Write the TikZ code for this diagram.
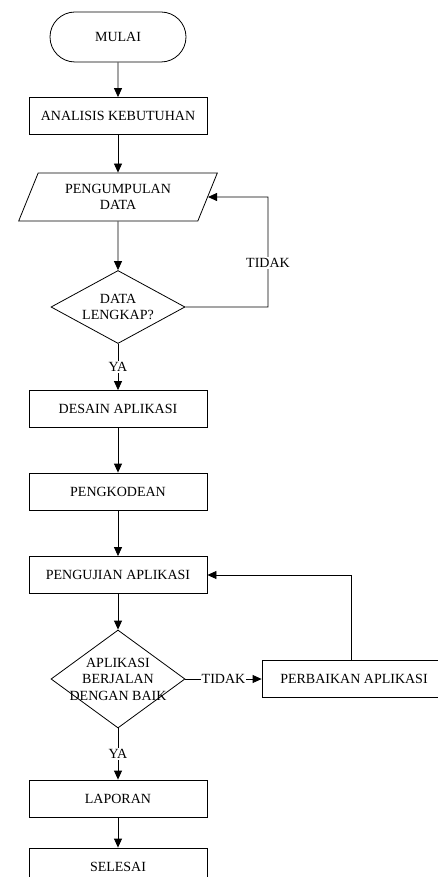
\documentclass[tikz,border=0pt]{standalone}
\usepackage{fontspec}
\setmainfont{Liberation Serif}
\usetikzlibrary{arrows.meta,shapes.geometric,shapes.misc}

\begin{document}
\begin{tikzpicture}[x=1pt,y=-1pt,
  every node/.style={font=\fontsize{14}{16.5}\selectfont},
  box/.style={draw,rectangle,line width=0.8pt,minimum width=178pt,minimum height=37pt,inner sep=0pt},
  term/.style={draw,rounded rectangle,line width=0.8pt,minimum width=136pt,minimum height=50pt,inner sep=0pt},
  io/.style={draw,trapezium,trapezium left angle=63.4,trapezium right angle=116.6,
    trapezium stretches=true,line width=0.8pt,minimum width=199pt,minimum height=48pt,
    inner sep=0pt,align=center},
  decision/.style={draw,diamond,line width=0.8pt,inner sep=0pt},
  arr/.style={-{Triangle[width=8pt,length=9pt]},line width=0.8pt},
  tag/.style={fill=white,inner sep=1pt}
]
\useasboundingbox (0,0) rectangle (438,877);

% main column
\node[term] (start) at (118,37) {MULAI};
\node[box] (anal) at (118,116) {ANALISIS KEBUTUHAN};
\node[io] (data) at (118,197) {PENGUMPULAN\\DATA};
\node[decision,minimum width=134pt,minimum height=73pt,
  label={[align=center]center:DATA\\LENGKAP?}] (d1) at (118,307) {};
\node[box] (desain) at (118,409) {DESAIN APLIKASI};
\node[box] (kode) at (118,491.5) {PENGKODEAN};
\node[box] (uji) at (118,575) {PENGUJIAN APLIKASI};
\node[decision,minimum width=134pt,minimum height=98pt,
  label={[align=center]center:APLIKASI\\BERJALAN\\DENGAN BAIK}] (d2) at (118,679) {};
\node[box] (lap) at (118,798.5) {LAPORAN};
\node[box] (sel) at (118,866.5) {SELESAI};

% repair step on the right, running past the page edge
\node[box,minimum width=184pt] (perb) at (354,679) {PERBAIKAN APLIKASI};

% connectors
\draw[arr] (start) -- (anal);
\draw[arr] (anal) -- (data);
\draw[arr] (data) -- (d1);
\coordinate (c1) at (268,197);
\draw[arr] (d1.east) -| node[pos=0.7,tag] {TIDAK} (c1) -- (data.east);
\draw[arr] (d1.south) -- node[tag] {YA} (desain.north);
\draw[arr] (desain) -- (kode);
\draw[arr] (kode) -- (uji);
\draw[arr] (uji) -- (d2.north);
\draw[arr] (d2.east) -- node[tag] {TIDAK} (perb.west);
\draw[arr] ([xshift=-3pt]perb.north) |- (uji.east);
\draw[arr] (d2.south) -- node[tag] {YA} (lap.north);
\draw[arr] (lap) -- (sel);
\end{tikzpicture}
\end{document}
